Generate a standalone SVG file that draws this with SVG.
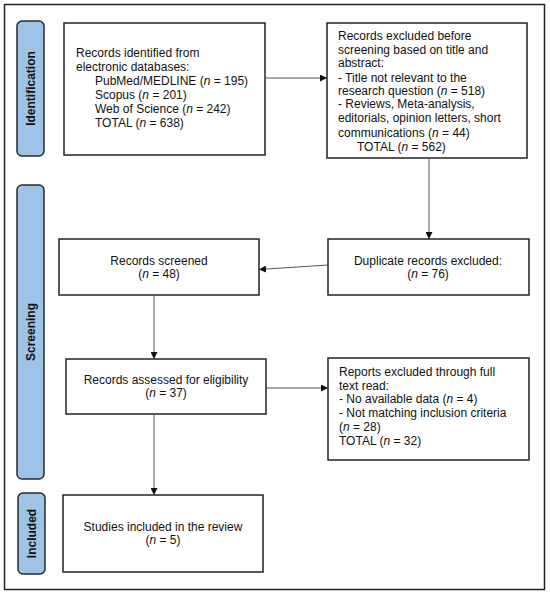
<svg xmlns="http://www.w3.org/2000/svg" width="550" height="595" viewBox="0 0 550 595">
<defs>
<marker id="ah" viewBox="0 0 10 10" refX="10" refY="5" markerWidth="7" markerHeight="7" markerUnits="userSpaceOnUse" orient="auto"><path d="M0,0 L10,5 L0,10 z" fill="#111"/></marker>
<style>
text{font-family:"Liberation Sans",Arial,sans-serif;font-size:12px;fill:#111}
.box{fill:#fff;stroke:#222;stroke-width:1.5}
.lab{fill:#9dc3e6;stroke:#2a2a2a;stroke-width:1.5}
.lt{font-weight:bold;text-anchor:middle}
.c{text-anchor:middle}
.con line{stroke:#555;stroke-width:1;marker-end:url(#ah)}
</style>
</defs>
<rect width="550" height="595" fill="#fff"/>
<rect x="4.5" y="4.5" width="540" height="585" fill="none" stroke="#222" stroke-width="1.5"/>
<g id="label-identification"><rect class="lab" x="17" y="21" width="27" height="135" rx="5"/><text class="lt" transform="translate(34.5,88.5) rotate(-90)">Identification</text></g>
<g id="label-screening"><rect class="lab" x="17" y="185" width="27" height="294" rx="5"/><text class="lt" transform="translate(34.5,332) rotate(-90)">Screening</text></g>
<g id="label-included"><rect class="lab" x="18" y="493" width="27" height="81" rx="5"/><text class="lt" transform="translate(35.5,533.5) rotate(-90)">Included</text></g>
<g id="identified"><rect class="box" x="64" y="23" width="201" height="132"/>
<text x="76" y="57">Records identified from</text>
<text x="76" y="71">electronic databases:</text>
<text x="95" y="85">PubMed/MEDLINE (<tspan font-style="italic">n</tspan> = 195)</text>
<text x="95" y="99">Scopus (<tspan font-style="italic">n</tspan> = 201)</text>
<text x="95" y="113">Web of Science (<tspan font-style="italic">n</tspan> = 242)</text>
<text x="95" y="127">TOTAL (<tspan font-style="italic">n</tspan> = 638)</text></g>
<g id="excluded-before"><rect class="box" x="327" y="23" width="200" height="135"/>
<text x="338" y="40">Records excluded before</text>
<text x="338" y="54">screening based on title and</text>
<text x="338" y="67">abstract:</text>
<text x="338" y="82">- Title not relevant to the</text>
<text x="338" y="95">research question (<tspan font-style="italic">n</tspan> = 518)</text>
<text x="338" y="108">- Reviews, Meta-analysis,</text>
<text x="338" y="122">editorials, opinion letters, short</text>
<text x="338" y="137">communications (<tspan font-style="italic">n</tspan> = 44)</text>
<text x="357" y="151">TOTAL (<tspan font-style="italic">n</tspan> = 562)</text></g>
<g id="duplicate"><rect class="box" x="328" y="239" width="201" height="56"/>
<text class="c" x="428" y="265">Duplicate records excluded:</text>
<text class="c" x="428" y="278">(<tspan font-style="italic">n</tspan> = 76)</text></g>
<g id="screened"><rect class="box" x="59" y="239" width="200" height="56"/>
<text class="c" x="159" y="265">Records screened</text>
<text class="c" x="159" y="278">(<tspan font-style="italic">n</tspan> = 48)</text></g>
<g id="eligibility"><rect class="box" x="66" y="359" width="200" height="55"/>
<text class="c" x="166" y="384">Records assessed for eligibility</text>
<text class="c" x="166" y="397">(<tspan font-style="italic">n</tspan> = 37)</text></g>
<g id="reports-excluded"><rect class="box" x="328" y="358" width="201" height="102"/>
<text x="339" y="376">Reports excluded through full</text>
<text x="339" y="389.5">text read:</text>
<text x="339" y="403">- No available data (<tspan font-style="italic">n</tspan> = 4)</text>
<text x="339" y="417">- Not matching inclusion criteria</text>
<text x="339" y="431">(<tspan font-style="italic">n</tspan> = 28)</text>
<text x="339" y="445">TOTAL (<tspan font-style="italic">n</tspan> = 32)</text></g>
<g id="included"><rect class="box" x="63" y="495" width="200" height="77"/>
<text class="c" x="163" y="531">Studies included in the review</text>
<text class="c" x="163" y="544">(<tspan font-style="italic">n</tspan> = 5)</text></g>
<g class="con" id="connectors">
<line x1="265" y1="78" x2="327" y2="78"/>
<line x1="429" y1="158" x2="429" y2="239"/>
<line x1="328" y1="265" x2="259" y2="269.5"/>
<line x1="154" y1="295" x2="154" y2="359"/>
<line x1="266" y1="388" x2="328" y2="388"/>
<line x1="154" y1="414" x2="154" y2="495"/>
</g>
</svg>
